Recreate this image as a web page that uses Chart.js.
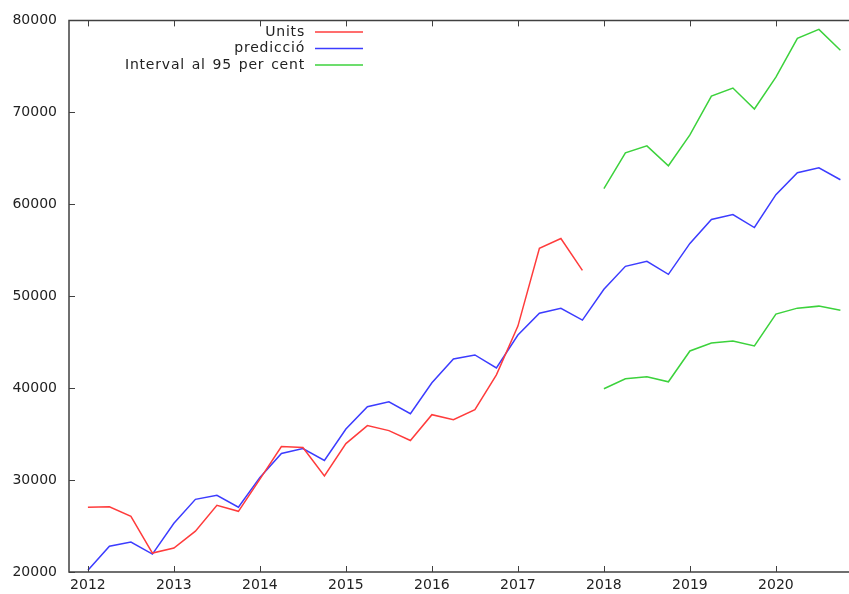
<!DOCTYPE html>
<html>
<head>
<meta charset="utf-8">
<script src="https://cdn.jsdelivr.net/npm/chart.js@4/dist/chart.umd.min.js"></script>
<style>
  html, body { margin: 0; padding: 0; background: #fff; }
  #wrap { width: 849px; height: 594px; }
</style>
</head>
<body>
<div id="wrap"><canvas id="chart" width="849" height="594"></canvas></div>
<script>
// Dades (trimestrals)
const quarters = [
    2012, 2012.25, 2012.5, 2012.75,
    2013, 2013.25, 2013.5, 2013.75,
    2014, 2014.25, 2014.5, 2014.75,
    2015, 2015.25, 2015.5, 2015.75,
    2016, 2016.25, 2016.5, 2016.75,
    2017, 2017.25, 2017.5, 2017.75,
    2018, 2018.25, 2018.5, 2018.75,
    2019, 2019.25, 2019.5, 2019.75,
    2020, 2020.25, 2020.5, 2020.75
];
const units = [
    27040, 27100, 26060, 22060,
    22600, 24440, 27260, 26600,
    30100, 33650, 33540, 30450,
    33970, 35920, 35380, 34300,
    37110, 36570, 37650, 41440,
    46750, 55200, 56280, 52810
];
const prediccio = [
    20200, 22800, 23250, 21950,
    25300, 27900, 28340, 27040,
    30290, 32890, 33430, 32130,
    35550, 37980, 38520, 37220,
    40580, 43180, 43610, 42200,
    45770, 48150, 48690, 47400,
    50760, 53250, 53790, 52380,
    55740, 58340, 58880, 57470,
    61050, 63430, 63970, 62670
];
const intervalUpper = [61700, 65600, 66350, 64190, 67540, 71770, 72640, 70360, 73830, 78050, 79020, 76750];
const intervalLower = [39930, 41010, 41230, 40690, 44040, 44910, 45130, 44590, 48050, 48700, 48920, 48480];
const yearTicks = [2012, 2013, 2014, 2015, 2016, 2017, 2018, 2019, 2020];
const valueTicks = [20000, 30000, 40000, 50000, 60000, 70000, 80000];

const RED = '#ff3c3c', BLUE = '#3c3cff', GREEN = '#3cd23c';
const FONT = '14px "DejaVu Sans", Verdana, sans-serif';
const AXIS = '#404040';

const toPoints = (xs, ys) => ys.map((v, i) => ({ x: xs[i], y: v }));
const forecastQ = quarters.slice(units.length);

// Eixos, marques i llegenda estil gnuplot
const gnuplotFrame = {
    id: 'gnuplotFrame',
    afterDraw(chart) {
        const ctx = chart.ctx;
        const a = chart.chartArea;
        const xs = chart.scales.x, ys = chart.scales.y;
        ctx.save();
        ctx.strokeStyle = AXIS;
        ctx.lineWidth = 1.5;
        ctx.beginPath();
        ctx.moveTo(a.right, a.top); ctx.lineTo(a.left, a.top);
        ctx.lineTo(a.left, a.bottom); ctx.lineTo(a.right, a.bottom);
        ctx.stroke();
        ctx.lineWidth = 1;
        ctx.beginPath();
        yearTicks.forEach(t => {
            const px = Math.round(xs.getPixelForValue(t)) + 0.5;
            ctx.moveTo(px, a.bottom); ctx.lineTo(px, a.bottom - 6);
            ctx.moveTo(px, a.top); ctx.lineTo(px, a.top + 6);
        });
        valueTicks.forEach(t => {
            const py = Math.round(ys.getPixelForValue(t)) + 0.5;
            ctx.moveTo(a.left, py); ctx.lineTo(a.left + 6, py);
        });
        ctx.stroke();

        // llegenda
        const rows = [
            { label: chart.data.datasets[0].label, color: RED },
            { label: chart.data.datasets[1].label, color: BLUE },
            { label: chart.data.datasets[2].label, color: GREEN }
        ];
        ctx.font = FONT;
        ctx.textAlign = 'right';
        ctx.textBaseline = 'middle';
        ctx.letterSpacing = '0.8px';
        ctx.wordSpacing = '1.5px';
        rows.forEach((r, i) => {
            const y = 32 + i * 16.5;
            ctx.fillStyle = '#222';
            ctx.fillText(r.label, 305, y);
            ctx.strokeStyle = r.color;
            ctx.lineWidth = 1.5;
            ctx.beginPath();
            ctx.moveTo(315, y); ctx.lineTo(363, y);
            ctx.stroke();
        });
        ctx.restore();
    }
};

const lineStyle = (color) => ({
    borderColor: color,
    backgroundColor: color,
    borderWidth: 1.5,
    pointRadius: 0,
    tension: 0,
    fill: false
});

const chart = new Chart(document.getElementById('chart').getContext('2d'), {
    type: 'line',
    data: {
        datasets: [
            Object.assign({ label: 'Units', data: toPoints(quarters, units) }, lineStyle(RED)),
            Object.assign({ label: 'predicció', data: toPoints(quarters, prediccio) }, lineStyle(BLUE)),
            Object.assign({ label: 'Interval al 95 per cent', data: toPoints(forecastQ, intervalUpper) }, lineStyle(GREEN)),
            Object.assign({ label: 'Interval al 95 per cent (inf)', data: toPoints(forecastQ, intervalLower) }, lineStyle(GREEN))
        ]
    },
    options: {
        responsive: false,
        animation: false,
        layout: { padding: { top: 18, left: 0, right: 0, bottom: 0 } },
        plugins: {
            legend: { display: false },
            tooltip: { enabled: false }
        },
        scales: {
            x: {
                type: 'linear',
                min: 2011.78,
                max: 2020.85,
                afterBuildTicks: (s) => { s.ticks = yearTicks.map(v => ({ value: v })); },
                afterFit: (s) => { s.height = 22; },
                grid: { display: false, drawTicks: false },
                border: { display: false },
                ticks: {
                    padding: 5,
                    color: '#222',
                    font: { family: '"DejaVu Sans", Verdana, sans-serif', size: 14 },
                    maxRotation: 0,
                    autoSkip: false,
                    callback: (v) => String(v)
                }
            },
            y: {
                min: 20000,
                max: 80000,
                afterBuildTicks: (s) => { s.ticks = valueTicks.map(v => ({ value: v })); },
                afterFit: (s) => { s.width = 69; },
                grid: { display: false, drawTicks: false },
                border: { display: false },
                ticks: {
                    padding: 12,
                    color: '#222',
                    font: { family: '"DejaVu Sans", Verdana, sans-serif', size: 14 },
                    callback: (v) => String(v)
                }
            }
        }
    },
    plugins: [gnuplotFrame]
});
</script>
</body>
</html>
